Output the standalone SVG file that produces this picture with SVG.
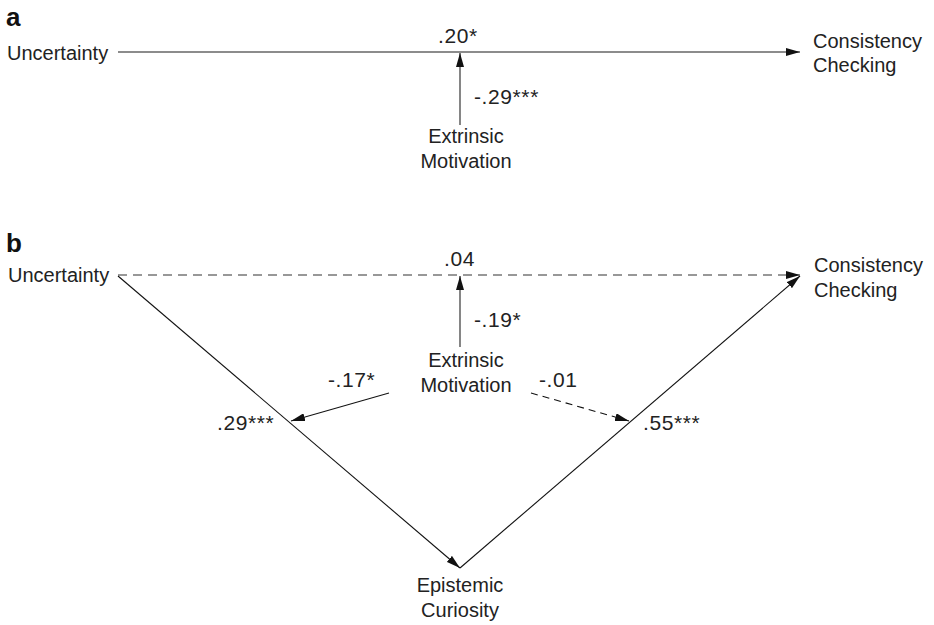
<svg xmlns="http://www.w3.org/2000/svg" width="934" height="625" viewBox="0 0 934 625">
<style>
text{font-family:"Liberation Sans",Arial,sans-serif;fill:#222;font-size:20px}
.lbl{font-size:21px;letter-spacing:0.6px}
.panel{font-weight:bold;font-size:26px;fill:#111}
.mid{text-anchor:middle}
.h{stroke:#666;stroke-width:1.6;fill:none}
.d{stroke:#777;stroke-width:1.6;fill:none;stroke-dasharray:9 6}
.v{stroke:#444;stroke-width:1.3;fill:none}
.s{stroke:#111;stroke-width:1.1;fill:none}
.sd{stroke:#111;stroke-width:1.1;fill:none;stroke-dasharray:7 5}
</style>
<defs>
<marker id="ah" viewBox="0 0 14 8" refX="14" refY="4" markerWidth="14" markerHeight="8" markerUnits="userSpaceOnUse" orient="auto">
<path d="M0,0 L14,4 L0,8 Z" fill="#111"/>
</marker>
</defs>
<text class="panel" x="6" y="26">a</text>
<text class="panel" x="6" y="252">b</text>
<g id="a-uncertainty"><text x="7" y="60">Uncertainty</text></g>
<g id="a-consistency"><text x="813" y="48">Consistency</text><text x="813" y="72">Checking</text></g>
<g id="a-extrinsic"><text class="mid" x="466" y="143">Extrinsic</text><text class="mid" x="466" y="168">Motivation</text></g>
<g id="b-uncertainty"><text x="8" y="282">Uncertainty</text></g>
<g id="b-consistency"><text x="814" y="272">Consistency</text><text x="814" y="297">Checking</text></g>
<g id="b-extrinsic"><text class="mid" x="466" y="367">Extrinsic</text><text class="mid" x="466" y="392">Motivation</text></g>
<g id="b-epistemic"><text class="mid" x="460" y="592">Epistemic</text><text class="mid" x="460" y="617">Curiosity</text></g>
<g id="connectors">
<line class="h" x1="118" y1="52" x2="800" y2="52" marker-end="url(#ah)"/>
<line class="v" x1="460" y1="125" x2="460" y2="53" marker-end="url(#ah)"/>
<line class="d" x1="118" y1="275" x2="800" y2="275" marker-end="url(#ah)"/>
<line class="v" x1="460" y1="347" x2="460" y2="276" marker-end="url(#ah)"/>
<line class="s" x1="118" y1="276" x2="460" y2="568" marker-end="url(#ah)"/>
<line class="s" x1="460" y1="568" x2="800" y2="276" marker-end="url(#ah)"/>
<line class="s" x1="389" y1="393" x2="291" y2="421" marker-end="url(#ah)"/>
<line class="sd" x1="531" y1="393" x2="629" y2="421" marker-end="url(#ah)"/>
</g>
<g id="labels">
<text class="lbl" x="438" y="43">.20*</text>
<text class="lbl" x="474" y="104">-.29***</text>
<text class="lbl" x="444" y="266">.04</text>
<text class="lbl" x="474" y="327">-.19*</text>
<text class="lbl" x="328" y="387">-.17*</text>
<text class="lbl" x="217" y="430">.29***</text>
<text class="lbl" x="539" y="387">-.01</text>
<text class="lbl" x="643" y="430">.55***</text>
</g>
</svg>
